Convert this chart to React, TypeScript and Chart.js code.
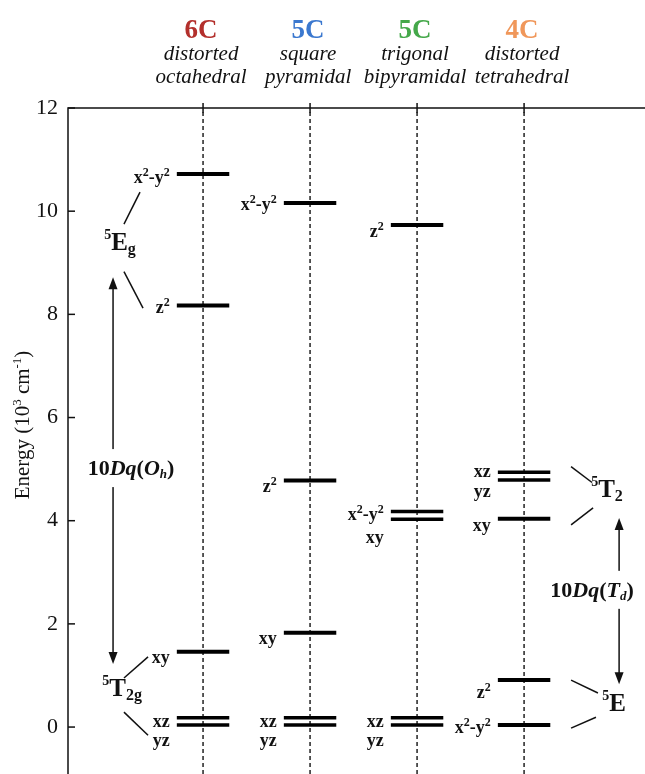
import React, { useEffect, useRef } from 'react';
import { Chart, registerables } from 'chart.js';

Chart.register(...registerables);

// ---------- data ----------
const columnNames = ['6C', '5C', '5C', '4C'];
const columnColors = ['#b3302c', '#3b78cf', '#45a84a', '#f0975a'];
const geometryLine1 = ['distorted', 'square', 'trigonal', 'distorted'];
const geometryLine2 = ['octahedral', 'pyramidal', 'bipyramidal', 'tetrahedral'];
const columnX = [1, 2, 3, 4];

const octEnergies = [10.72, 8.17, 1.46, 0.18, 0.04];
const octOrbitals = ['x²-y²', 'z²', 'xy', 'xz', 'yz'];
const spEnergies = [10.16, 4.78, 1.83, 0.18, 0.04];
const spOrbitals = ['x²-y²', 'z²', 'xy', 'xz', 'yz'];
const tbpEnergies = [9.73, 4.18, 4.03, 0.18, 0.04];
const tbpOrbitals = ['z²', 'x²-y²', 'xy', 'xz', 'yz'];
const tdEnergies = [4.94, 4.79, 4.04, 0.91, 0.04];
const tdOrbitals = ['xz', 'yz', 'xy', 'z²', 'x²-y²'];

const yTicks = [0, 2, 4, 6, 8, 10, 12];
const ohSplitArrow = [8.72, 1.22];
const tdSplitArrow = [4.05, 0.83];

// ---------- layout / style ----------
const Y_MIN = -0.91;
const Y_MAX = 12;
const X_MIN = -0.262;
const X_MAX = 5.13;
const HALF = 0.245;
const SERIF = "'Liberation Serif', 'Times New Roman', serif";

const levelSets = [
  { e: octEnergies, o: octOrbitals, w: [4, 4, 4, 3.5, 3.5], dy: [3, 1, 5, 3, 15] },
  { e: spEnergies, o: spOrbitals, w: [4, 4, 4, 3.5, 3.5], dy: [1, 6, 5, 3, 15] },
  { e: tbpEnergies, o: tbpOrbitals, w: [4, 3.5, 3.5, 3.5, 3.5], dy: [6, 3, 18, 3, 15] },
  { e: tdEnergies, o: tdOrbitals, w: [3.5, 3.5, 4, 4, 4], dy: [-1, 11, 6, 12, 2] },
];

type Seg = { t: string; font: string; dy?: number };

function measureRich(ctx: CanvasRenderingContext2D, segs: Seg[]) {
  return segs.map((s) => {
    ctx.font = s.font;
    return ctx.measureText(s.t).width;
  });
}

function drawRich(
  ctx: CanvasRenderingContext2D,
  segs: Seg[],
  x0: number,
  baseline: number,
  align: 'center' | 'right' = 'center'
) {
  const widths = measureRich(ctx, segs);
  const total = widths.reduce((a, b) => a + b, 0);
  let x = align === 'center' ? x0 - total / 2 : x0 - total;
  ctx.textAlign = 'left';
  ctx.textBaseline = 'alphabetic';
  segs.forEach((s, i) => {
    ctx.font = s.font;
    ctx.fillText(s.t, x, baseline + (s.dy || 0));
    x += widths[i];
  });
  return total;
}

function orbitalSegs(name: string): Seg[] {
  const main = `bold 18px ${SERIF}`;
  const sup = `bold 12px ${SERIF}`;
  const out: Seg[] = [];
  for (const ch of name) {
    if (ch === '²') out.push({ t: '2', font: sup, dy: -7 });
    else out.push({ t: ch, font: main });
  }
  return out;
}

function arrowHead(ctx: CanvasRenderingContext2D, x: number, y: number, dir: number) {
  ctx.beginPath();
  ctx.moveTo(x, y);
  ctx.lineTo(x - 4.5, y - dir * 12);
  ctx.lineTo(x + 4.5, y - dir * 12);
  ctx.closePath();
  ctx.fill();
}

const diagramPlugin = {
  id: 'diagram',
  beforeDatasetsDraw(chart: any) {
    const { ctx, chartArea, scales } = chart;
    const X = (u: number) => scales.x.getPixelForValue(u);
    const Y = (v: number) => scales.y.getPixelForValue(v);
    ctx.save();
    ctx.strokeStyle = '#111';
    ctx.lineWidth = 1.5;
    ctx.beginPath();
    ctx.moveTo(chartArea.left, chartArea.bottom);
    ctx.lineTo(chartArea.left, chartArea.top);
    ctx.lineTo(chart.width, chartArea.top);
    ctx.stroke();
    yTicks.forEach((t) => {
      ctx.beginPath();
      ctx.moveTo(chartArea.left, Y(t));
      ctx.lineTo(chartArea.left + 7, Y(t));
      ctx.stroke();
    });
    columnX.forEach((c) => {
      ctx.beginPath();
      ctx.moveTo(X(c), chartArea.top - 5);
      ctx.lineTo(X(c), chartArea.top + 5);
      ctx.stroke();
    });
    ctx.restore();
  },
  afterDatasetsDraw(chart: any) {
    const { ctx, scales } = chart;
    const X = (u: number) => scales.x.getPixelForValue(u);
    const Y = (v: number) => scales.y.getPixelForValue(v);
    ctx.save();
    ctx.fillStyle = '#111';
    ctx.strokeStyle = '#111';

    // headers
    columnX.forEach((c, i) => {
      const cx = X(c) - 2;
      ctx.fillStyle = columnColors[i];
      drawRich(ctx, [{ t: columnNames[i], font: `bold 27px ${SERIF}` }], cx, 38);
      ctx.fillStyle = '#111';
      drawRich(ctx, [{ t: geometryLine1[i], font: `italic 21px ${SERIF}` }], cx, 60);
      drawRich(ctx, [{ t: geometryLine2[i], font: `italic 21px ${SERIF}` }], cx, 83);
    });

    // y-axis title
    ctx.save();
    ctx.translate(29, 425);
    ctx.rotate(-Math.PI / 2);
    drawRich(
      ctx,
      [
        { t: 'Energy (10', font: `21px ${SERIF}` },
        { t: '3', font: `13px ${SERIF}`, dy: -8 },
        { t: ' cm', font: `21px ${SERIF}` },
        { t: '-1', font: `13px ${SERIF}`, dy: -8 },
        { t: ')', font: `21px ${SERIF}` },
      ],
      0,
      0
    );
    ctx.restore();

    // orbital labels
    levelSets.forEach((set, ci) => {
      const lx = X(columnX[ci] - HALF) - 7;
      set.e.forEach((e, li) => {
        drawRich(ctx, orbitalSegs(set.o[li]), lx, Y(e) + set.dy[li] + 6, 'right');
      });
    });

    // connector lines
    ctx.lineWidth = 1.5;
    const seg = (u1: number, v1: number, u2: number, v2: number) => {
      ctx.beginPath();
      ctx.moveTo(X(u1), Y(v1));
      ctx.lineTo(X(u2), Y(v2));
      ctx.stroke();
    };
    seg(0.261, 9.75, 0.411, 10.37);
    seg(0.261, 8.83, 0.439, 8.12);
    seg(0.261, 0.95, 0.486, 1.36);
    seg(0.261, 0.29, 0.486, -0.16);
    seg(4.439, 5.05, 4.635, 4.74);
    seg(4.439, 3.92, 4.645, 4.25);
    seg(4.439, 0.91, 4.69, 0.66);
    seg(4.439, -0.02, 4.672, 0.19);

    // arrows
    const ax1 = X(0.159);
    ctx.beginPath();
    ctx.moveTo(ax1, Y(ohSplitArrow[0]) + 10);
    ctx.lineTo(ax1, Y(ohSplitArrow[1]) - 10);
    ctx.stroke();
    arrowHead(ctx, ax1, Y(ohSplitArrow[0]), -1);
    arrowHead(ctx, ax1, Y(ohSplitArrow[1]), 1);
    const ax2 = X(4.888);
    ctx.beginPath();
    ctx.moveTo(ax2, Y(tdSplitArrow[0]) + 10);
    ctx.lineTo(ax2, Y(tdSplitArrow[1]) - 10);
    ctx.stroke();
    arrowHead(ctx, ax2, Y(tdSplitArrow[0]), -1);
    arrowHead(ctx, ax2, Y(tdSplitArrow[1]), 1);

    // 10Dq labels with white backing
    const dqSegs = (a: string, b: string): Seg[] => [
      { t: '10', font: `bold 22px ${SERIF}` },
      { t: 'Dq', font: `bold italic 22px ${SERIF}` },
      { t: '(', font: `bold 22px ${SERIF}` },
      { t: a, font: `bold italic 22px ${SERIF}` },
      { t: b, font: `bold italic 13px ${SERIF}`, dy: 3 },
      { t: ')', font: `bold 22px ${SERIF}` },
    ];
    const label = (segs: Seg[], u: number, v: number) => {
      const cx = X(u);
      const cy = Y(v);
      ctx.save();
      ctx.fillStyle = '#fff';
      ctx.fillRect(cx - 52, cy - 19, 104, 38);
      ctx.restore();
      drawRich(ctx, segs, cx, cy + 7);
    };
    label(dqSegs('O', 'h'), 0.327, 5.02);
    label(dqSegs('T', 'd'), 4.635, 2.66);

    // term symbols
    const term = (main: string, sub: string, u: number, v: number) => {
      const segs: Seg[] = [
        { t: '5', font: `bold 14px ${SERIF}`, dy: -11 },
        { t: main, font: `bold 25px ${SERIF}` },
      ];
      if (sub) segs.push({ t: sub, font: `bold 16px ${SERIF}`, dy: 4 });
      drawRich(ctx, segs, X(u), Y(v) + 8);
    };
    term('E', 'g', 0.224, 9.4);
    term('T', '2g', 0.243, 0.76);
    term('T', '2', 4.775, 4.62);
    term('E', '', 4.841, 0.47);

    ctx.restore();
  },
};

function buildDatasets() {
  const ds: any[] = [];
  levelSets.forEach((set, ci) => {
    const c = columnX[ci];
    set.e.forEach((e, li) => {
      ds.push({
        label: `${columnNames[ci]} ${set.o[li]}`,
        data: [
          { x: c - HALF, y: e },
          { x: c + HALF, y: e },
        ],
        borderColor: '#000',
        borderWidth: set.w[li],
        borderCapStyle: 'butt',
        pointRadius: 0,
        order: 0,
      });
    });
  });
  columnX.forEach((c, i) => {
    ds.push({
      label: `axis ${i}`,
      data: [
        { x: c, y: Y_MIN },
        { x: c, y: Y_MAX },
      ],
      borderColor: '#222',
      borderWidth: 1.5,
      borderDash: [4, 3],
      pointRadius: 0,
      order: 10,
    });
  });
  return ds;
}

export default function App() {
  const ref = useRef<HTMLCanvasElement>(null);
  useEffect(() => {
    document.body.style.margin = '0';
    const chart = new Chart(ref.current as HTMLCanvasElement, {
      type: 'line',
      data: { datasets: buildDatasets() },
      options: {
        responsive: false,
        animation: false,
        devicePixelRatio: 1,
        layout: { padding: { top: 108, left: 0, right: 0, bottom: 0 } },
        plugins: { legend: { display: false }, tooltip: { enabled: false } },
        scales: {
          x: { type: 'linear', min: X_MIN, max: X_MAX, display: false },
          y: {
            type: 'linear',
            min: Y_MIN,
            max: Y_MAX,
            grid: { display: false, drawTicks: false },
            border: { display: false },
            afterBuildTicks: (s: any) => {
              s.ticks = yTicks.map((v) => ({ value: v }));
            },
            afterFit: (s: any) => {
              s.width = 68;
              s.paddingTop = 0;
              s.paddingBottom = 0;
            },
            ticks: {
              color: '#111',
              padding: 10,
              font: { family: SERIF, size: 22 },
            },
          },
        },
      },
      plugins: [diagramPlugin],
    } as any);
    return () => chart.destroy();
  }, []);
  return <canvas ref={ref} width={645} height={774} style={{ display: 'block' }} />;
}
